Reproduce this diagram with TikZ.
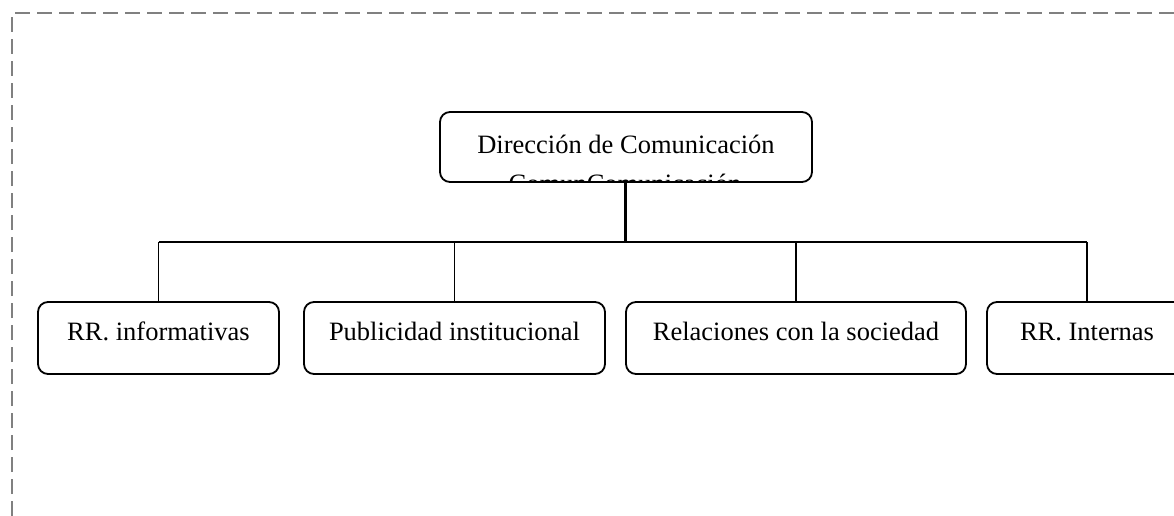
\documentclass[tikz,border=0pt]{standalone}
\usepackage{fontspec}
\setmainfont{Liberation Serif}
\begin{document}
\begin{tikzpicture}[x=1pt,y=-1pt,
  font=\fontsize{26.5}{40}\selectfont,
  boxnode/.style={draw=black, line width=1.8pt, rounded corners=10pt, fill=white,
    inner sep=0pt, minimum height=72pt, text height=20pt, text depth=16pt},
  topnode/.style={draw=black, line width=1.8pt, rounded corners=10pt,
    inner sep=0pt, minimum width=372pt, minimum height=70pt, text height=22pt, text depth=10pt},
  conn/.style={draw=black, line width=1.6pt},
  mainconn/.style={draw=black, line width=3pt},
  frame/.style={draw=black!50, line width=1.5pt, dash pattern=on 15pt off 7pt}]
\useasboundingbox (0,0) rectangle (1174,516);
% dashed frame
\coordinate (fl) at (12,516);
\coordinate (fc) at (12,13);
\coordinate (fr) at (1174,13);
\draw[frame] (fl) -- (fc) -- (fr);
% top box
\node[topnode] (top) at (626,147) {Dirección de Comunicación};
\begin{scope}
  \clip (442,114) rectangle (810,180);
  \node[anchor=base, inner sep=0pt] (topclip) at (625,192.5) {ComunComunicación};
\end{scope}
% bottom boxes
\node[boxnode, minimum width=241pt] (b1) at (158.5,338) {RR. informativas};
\node[boxnode, minimum width=301pt] (b2) at (454.5,338) {Publicidad institucional};
\node[boxnode, minimum width=340pt] (b3) at (796,338) {Relaciones con la sociedad};
\node[boxnode, minimum width=200pt] (b4) at (1087,338) {RR. Internas};
% connectors
\coordinate (bus) at (625,242);
\draw[mainconn] (top.south -| bus) -- (bus);
\draw[conn] (b1.north |- bus) -- (b4.north |- bus);
\foreach \b in {b1,b2,b3,b4} {
  \draw[conn] (\b.north) -- (\b.north |- bus);
}
\end{tikzpicture}
\end{document}
